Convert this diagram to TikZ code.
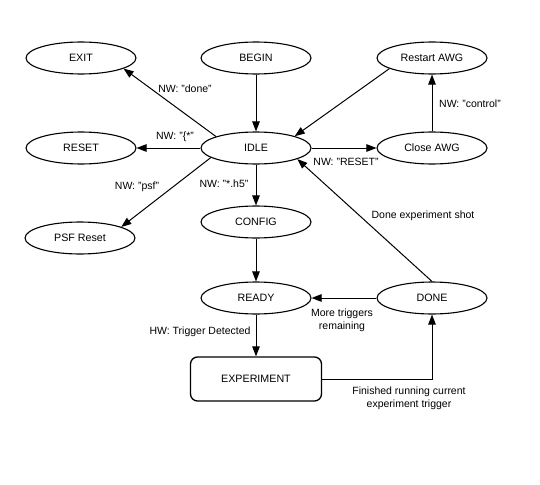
\documentclass[tikz,border=0pt]{standalone}
\usepackage{fontspec}
\setmainfont{Liberation Sans}
\usetikzlibrary{arrows.meta,shapes.geometric}
\begin{document}
\begin{tikzpicture}[x=1pt,y=-1pt,
  state/.style={ellipse,draw,line width=1.1pt,minimum width=110pt,minimum height=32pt,
    inner sep=0pt,font=\fontsize{10.7}{12}\selectfont},
  proc/.style={rectangle,rounded corners=7pt,draw,line width=1.3pt,minimum width=131pt,
    minimum height=44pt,inner sep=0pt,font=\fontsize{10.7}{12}\selectfont},
  flow/.style={draw,line width=1pt,-{Triangle[length=10pt,width=7.5pt]}},
  lbl/.style={font=\fontsize{10.5}{13}\selectfont,inner sep=0pt,align=center}
]
\useasboundingbox[fill=white] (0,0) rectangle (540,484);

% states
\node[state] (exit)    at (81,58)   {EXIT};
\node[state] (begin)   at (256,58)  {BEGIN};
\node[state] (restart) at (432,58)  {Restart AWG};
\node[state] (reset)   at (81,148)  {RESET};
\node[state] (idle)    at (256,148) {IDLE};
\node[state] (close)   at (432,148) {Close AWG};
\node[state] (psf)     at (80,238)  {PSF Reset};
\node[state] (config)  at (256,222) {CONFIG};
\node[state] (ready)   at (256,298) {READY};
\node[state] (done)    at (432,298) {DONE};
\node[proc]  (exper)   at (256,379) {EXPERIMENT};

% transitions
\draw[flow] (begin) -- (idle);
\draw[flow] (idle.164) -- (exit.-14);
\draw[flow] (idle) -- (reset);
\draw[flow] (idle.192) -- (psf.15);
\draw[flow] (idle) -- (config);
\draw[flow] (idle) -- (close);
\draw[flow] (close) -- (restart);
\draw[flow] (restart.194) -- (idle.17);
\draw[flow] (done.north) -- (idle.-15);
\draw[flow] (config) -- (ready);
\draw[flow] (done) -- (ready);
\draw[flow] (ready) -- (exper);
\draw[flow] (exper.east) -| (done.south);

% transition labels
\node[lbl] (l1) at (185,89)  {NW: "done"};
\node[lbl] (l2) at (175,137) {NW: "\{*"};
\node[lbl] (l3) at (137,187) {NW: "psf"};
\node[lbl] (l4) at (224,184) {NW: "*.h5"};
\node[lbl] (l5) at (346,162) {NW: "RESET"};
\node[lbl] (l6) at (470,104) {NW: "control"};
\node[lbl] (l7) at (423,216) {Done experiment shot};
\node[lbl] (l8) at (342,320) {More triggers\\remaining};
\node[lbl] (l9) at (200,332) {HW: Trigger Detected};
\node[lbl] (l10) at (409,398) {Finished running current\\experiment trigger};
\end{tikzpicture}
\end{document}
